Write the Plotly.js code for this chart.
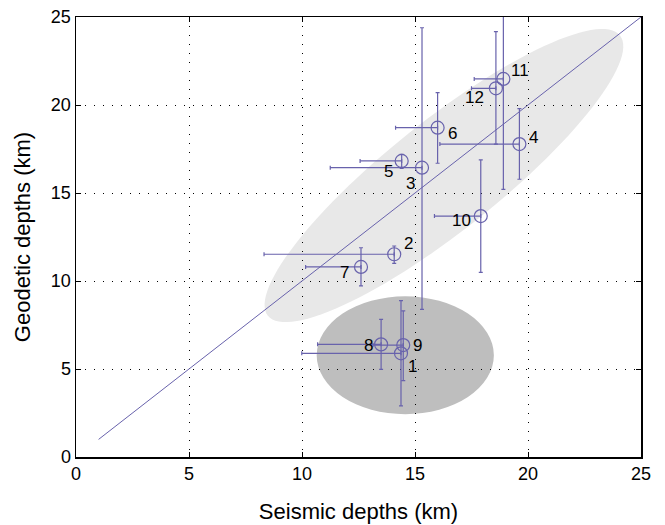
<!DOCTYPE html>
<html>
<head>
<meta charset="utf-8">
<script src="https://cdn.plot.ly/plotly-3.0.1.min.js"></script>
<style>html,body{margin:0;padding:0;background:#fff;}#chart{width:665px;height:525px;}</style>
</head>
<body>
<div id="chart"></div>
<script>
// ---- data ----
const labels   = ['1','2','3','4','5','6','7','8','9','10','11','12'];
const seismic  = [14.38, 14.08, 15.31, 19.62, 14.41, 16.00, 12.61, 13.50, 14.48, 17.91, 18.91, 18.58];
const geodetic = [5.89, 11.52, 16.44, 17.78, 16.82, 18.71, 10.80, 6.40, 6.36, 13.69, 21.48, 20.95];
const seisErrMinus = [4.39, 5.76, 4.06, 3.52, 1.84, 1.86, 2.45, 2.81, 1.34, 2.05, 1.29, 1.08];
const seisErrPlus  = [0, 0, 0, 0, 0, 0, 0, 0, 0, 0, 0, 0];
const geoErrPlus   = [2.99, 0.47, 7.95, 2.01, 0.38, 1.99, 1.09, 1.42, 1.94, 3.19, 6.27, 3.22];
const geoErrMinus  = [2.99, 0.52, 8.05, 2.00, 0.42, 2.02, 1.08, 1.42, 2.02, 3.20, 6.27, 3.17];
const oneToOne = [1, 25];
const tickVals = [0, 5, 10, 15, 20, 25];

// ellipse regions: centre and axis vectors (data units)
const lightEllipse = {cx: 16.28, cy: 15.99, ax: 7.79, ay: 7.96, bx: 1.515, by: -2.446};
const darkEllipse  = {cx: 14.57, cy: 5.78, rx: 3.92, ry: 3.35};

// ---- styling ----
const purple = 'rgb(104,98,172)';
const labelDx = [12, 14, -12, 14, -13, 15, -16, -13, 14, -19, 17, -21];
const labelDy = [13, -11, 16, -7, 11, 6, 6, 1, 0, 4, -8, 9]; // pixels, down positive
const fontFam = 'Liberation Sans, Arial, sans-serif';

function ellipsePath(e) {
  const n = 120; let p = '';
  for (let i = 0; i <= n; i++) {
    const t = 2 * Math.PI * i / n;
    const x = e.cx + e.ax * Math.cos(t) + e.bx * Math.sin(t);
    const y = e.cy + e.ay * Math.cos(t) + e.by * Math.sin(t);
    p += (i === 0 ? 'M' : 'L') + x.toFixed(4) + ',' + y.toFixed(4);
  }
  return p + 'Z';
}

const traces = [
  {
    x: oneToOne, y: oneToOne, mode: 'lines', type: 'scatter',
    line: {color: purple, width: 1}, hoverinfo: 'skip', showlegend: false
  },
  {
    x: seismic, y: geodetic, mode: 'markers', type: 'scatter', cliponaxis: false,
    marker: {symbol: 'circle-open', size: 13, color: purple, line: {width: 1.2, color: purple}},
    error_x: {type: 'data', symmetric: false, array: seisErrPlus, arrayminus: seisErrMinus,
              color: purple, thickness: 1.2, width: 2},
    error_y: {type: 'data', symmetric: false, array: geoErrPlus, arrayminus: geoErrMinus,
              color: purple, thickness: 1.2, width: 2},
    showlegend: false
  }
];

const annotations = labels.map((t, i) => ({
  x: seismic[i], y: geodetic[i], xref: 'x', yref: 'y', text: t, showarrow: false,
  xshift: labelDx[i], yshift: -labelDy[i],
  font: {family: fontFam, size: 17, color: '#000'}
}));

const axisCommon = {
  range: [0, 25], tickvals: tickVals, ticktext: tickVals.map(String),
  ticks: 'inside', ticklen: 5, tickwidth: 1, tickcolor: '#000',
  showline: true, linecolor: '#000', linewidth: 1.5, mirror: 'ticks',
  showgrid: true, gridcolor: '#000', gridwidth: 1, griddash: '1px,8px',
  zeroline: false, fixedrange: true,
  tickfont: {family: fontFam, size: 18, color: '#000'}
};

const layout = {
  width: 665, height: 525,
  margin: {l: 76, r: 24, t: 17, b: 68},
  paper_bgcolor: '#fff', plot_bgcolor: '#fff',
  xaxis: Object.assign({}, axisCommon, {
    title: {text: 'Seismic depths (km)', standoff: 20,
            font: {family: fontFam, size: 22, color: '#000'}}
  }),
  yaxis: Object.assign({}, axisCommon, {
    title: {text: 'Geodetic depths (km)', standoff: 14,
            font: {family: fontFam, size: 22, color: '#000'}}
  }),
  shapes: [
    {type: 'path', xref: 'x', yref: 'y', path: ellipsePath(lightEllipse),
     fillcolor: '#e8e8e8', line: {width: 0}, layer: 'below'},
    {type: 'circle', xref: 'x', yref: 'y',
     x0: darkEllipse.cx - darkEllipse.rx, x1: darkEllipse.cx + darkEllipse.rx,
     y0: darkEllipse.cy - darkEllipse.ry, y1: darkEllipse.cy + darkEllipse.ry,
     fillcolor: '#bebebe', line: {width: 0}, layer: 'below'}
  ],
  annotations: annotations,
  showlegend: false
};

Plotly.newPlot('chart', traces, layout, {displayModeBar: false, staticPlot: true});
</script>
</body>
</html>
